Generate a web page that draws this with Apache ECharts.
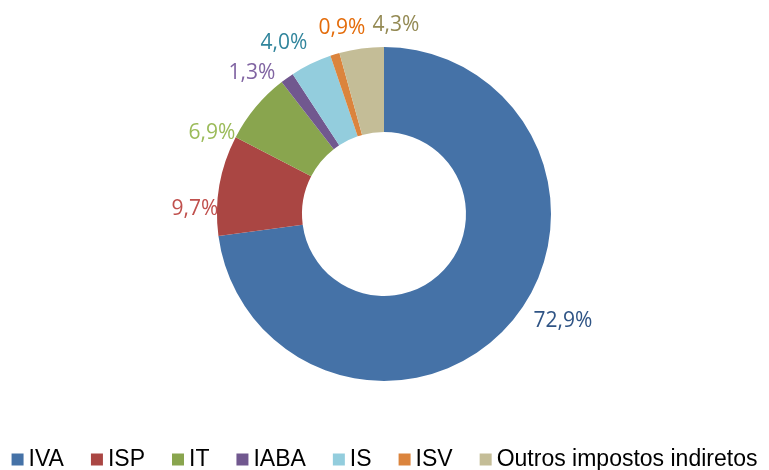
<!DOCTYPE html>
<html><head><meta charset="utf-8">
<script src="https://cdn.jsdelivr.net/npm/echarts@6/dist/echarts.min.js"></script>
<style>html,body{margin:0;padding:0;background:#fff}#c{width:769px;height:470px}</style>
</head><body><div id="c"></div>
<script>
const categories = ['IVA','ISP','IT','IABA','IS','ISV','Outros impostos indiretos'];
const values = [72.9, 9.7, 6.9, 1.3, 4.0, 0.9, 4.3];
const sliceColors = ['#4572A7','#AA4643','#89A54E','#71588F','#93CDDD','#DB843D','#C4BD97'];
const labelColors = ['#2F5485','#C0504D','#9BBB59','#8064A2','#31859C','#E46C0A','#948A54'];
// label text centres (layout)
const labelCenters = [[563,321],[195,209],[212,133],[252,73],[284,43],[342,28],[396,25]];

const chart = echarts.init(document.getElementById('c'), null, {renderer:'canvas'});
chart.setOption({
  animation:false,
  legend:{
    top:443, left:'center', itemWidth:12, itemHeight:12, itemGap:27, icon:'rect',
    textStyle:{fontFamily:'Liberation Sans', fontSize:23, color:'#000'},
    data:categories
  },
  series:[{
    type:'pie', center:[384,214], radius:[82,167], startAngle:90, clockwise:true,
    avoidLabelOverlap:false,
    label:{show:true, position:'outside', fontFamily:'Open Sans', fontSize:21,
      formatter:p=>p.value.toFixed(1).replace('.',',')+'%'},
    labelLine:{show:false, length:8, length2:4},
    labelLayout:function(p){
      const c = labelCenters[p.dataIndex];
      return {x:c[0], y:c[1], align:'center', verticalAlign:'middle', hideOverlap:false};
    },
    itemStyle:{borderWidth:0},
    data:categories.map((n,i)=>({name:n, value:values[i],
      itemStyle:{color:sliceColors[i]}, label:{color:labelColors[i]}}))
  }]
});
</script></body></html>
